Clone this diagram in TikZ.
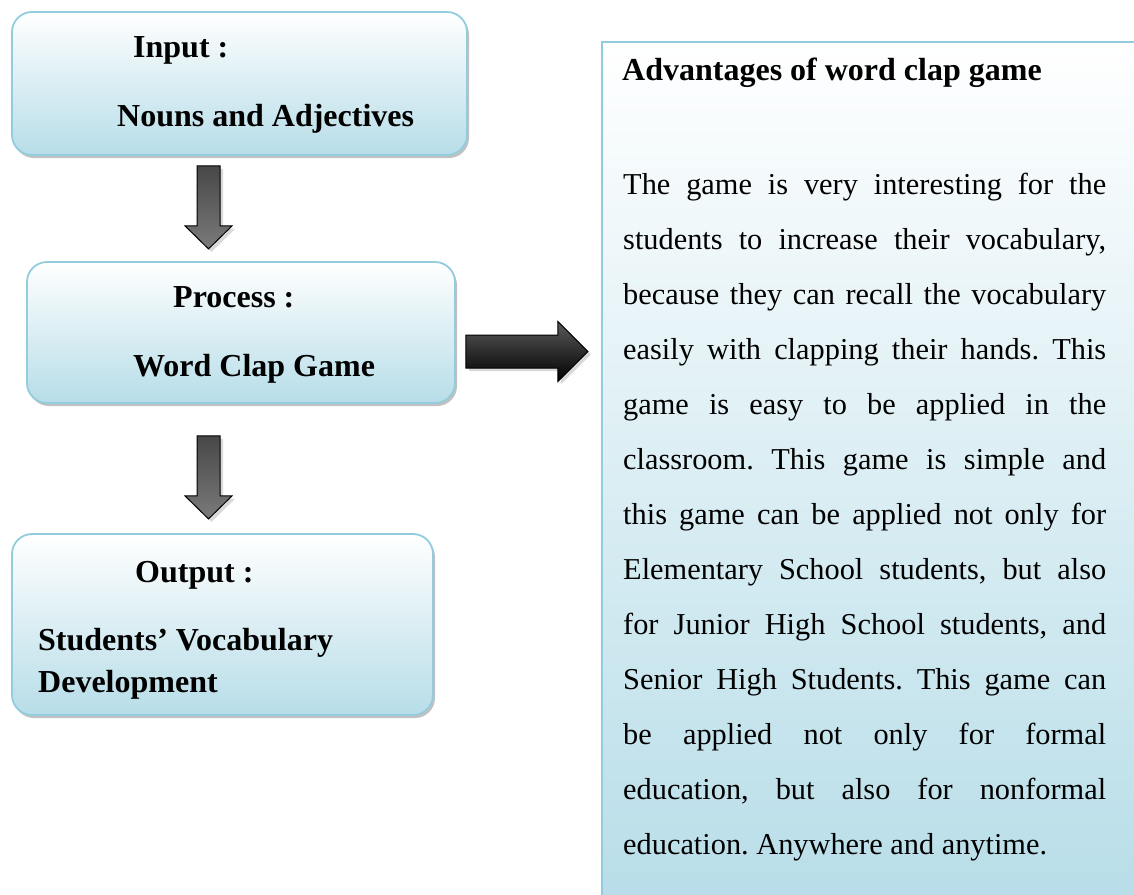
\documentclass[tikz,border=0pt]{standalone}
\usepackage{fontspec}
\setmainfont{Liberation Serif}
\usetikzlibrary{calc,shadows}
\frenchspacing

\definecolor{boxline}{HTML}{93CDDD}
\definecolor{boxfill}{HTML}{B7DDE8}

\tikzset{
  box/.style={draw=boxline, line width=1.8pt, rounded corners=20pt,
    top color=white, bottom color=boxfill, inner sep=0pt},
  boxshadow/.style={drop shadow={shadow xshift=2pt, shadow yshift=-3pt,
    opacity=0.35, fill=black!70}},
  panel/.style={draw=boxline, line width=1.8pt, top color=white,
    bottom color=boxfill, inner sep=0pt},
  hd/.style={font=\fontsize{32}{38}\selectfont\bfseries, inner sep=0pt},
  body/.style={font=\fontsize{30.35}{55}\selectfont, inner sep=0pt},
  blockarrow/.style={draw=black, line width=1pt, line join=miter,
    top color=black!72, middle color=black!98, bottom color=black!52,
    drop shadow={shadow xshift=3pt, shadow yshift=-3pt, opacity=0.3}},
  blockarrowdark/.style={draw=black, line width=1pt, line join=miter,
    top color=black!65, middle color=black!95, bottom color=black,
    drop shadow={shadow xshift=3pt, shadow yshift=-3pt, opacity=0.3}},
  downarrow/.pic={
    \path[blockarrow] (-11.5,0) -- (11.5,0) -- (11.5,60) -- (23.5,60)
      -- (0,83) -- (-23.5,60) -- (-11.5,60) -- cycle;},
  rightarrow/.pic={
    \path[blockarrowdark] (0,-16.5) -- (92,-16.5) -- (92,-30) -- (122,0)
      -- (92,30) -- (92,16.5) -- (0,16.5) -- cycle;}
}

\begin{document}
\begin{tikzpicture}[x=1pt, y=-1pt]
  \useasboundingbox (0,0) rectangle (1134,894);
  \clip (0,0) rectangle (1134,894);

  % right-hand panel, running off the page to the right and bottom
  \node[panel, anchor=north west, minimum width=545pt, minimum height=870pt]
    (adv) at (601,41) {};

  % flow boxes
  \node[box, boxshadow, minimum width=455pt, minimum height=143pt]
    (inbox) at (239.5,83.5) {};
  \node[box, boxshadow, minimum width=428pt, minimum height=141pt]
    (procbox) at (241,332.5) {};
  \node[box, boxshadow, minimum width=421pt, minimum height=181pt]
    (outbox) at (222.5,624.5) {};

  % box texts
  \node[hd, anchor=base west] (intitle) at (133,57) {Input :};
  \node[hd, anchor=base west] (intext) at (117,126) {Nouns and Adjectives};
  \node[hd, anchor=base west] (proctitle) at (173,307) {Process :};
  \node[hd, anchor=base west] (proctext) at (133,376) {Word Clap Game};
  \node[hd, anchor=base west] (outtitle) at (135,582) {Output :};
  \node[hd, anchor=base west] (outtext1) at (38,650) {Students’ Vocabulary};
  \node[hd, anchor=base west] (outtext2) at (38,692) {Development};

  % block arrows between the boxes
  \pic at ($(inbox.south)+(-31,10)$) {downarrow};
  \pic at ($(procbox.south)+(-32.5,32)$) {downarrow};
  \pic at ($(procbox.east)+(10,19)$) {rightarrow};

  % panel text
  \node[hd, anchor=base west] (advtitle) at (622,80) {Advantages of word clap game};
  \foreach \txt [count=\i] in {
      {The game is very interesting for the},
      {students to increase their vocabulary,},
      {because they can recall the vocabulary},
      {easily with clapping their hands. This},
      {game is easy to be applied in the},
      {classroom. This game is simple and},
      {this game can be applied not only for},
      {Elementary School students, but also},
      {for Junior High School students, and},
      {Senior High Students. This game can},
      {be applied not only for formal},
      {education, but also for nonformal}} {
    \pgfmathsetmacro\yy{194+55*(\i-1)}
    \node[body, anchor=base west] (line\i) at (623,\yy)
      {\makebox[483pt][s]{\txt}};
  }
  \node[body, anchor=base west] (line13) at (623,854)
    {education. Anywhere and anytime.};
\end{tikzpicture}
\end{document}
